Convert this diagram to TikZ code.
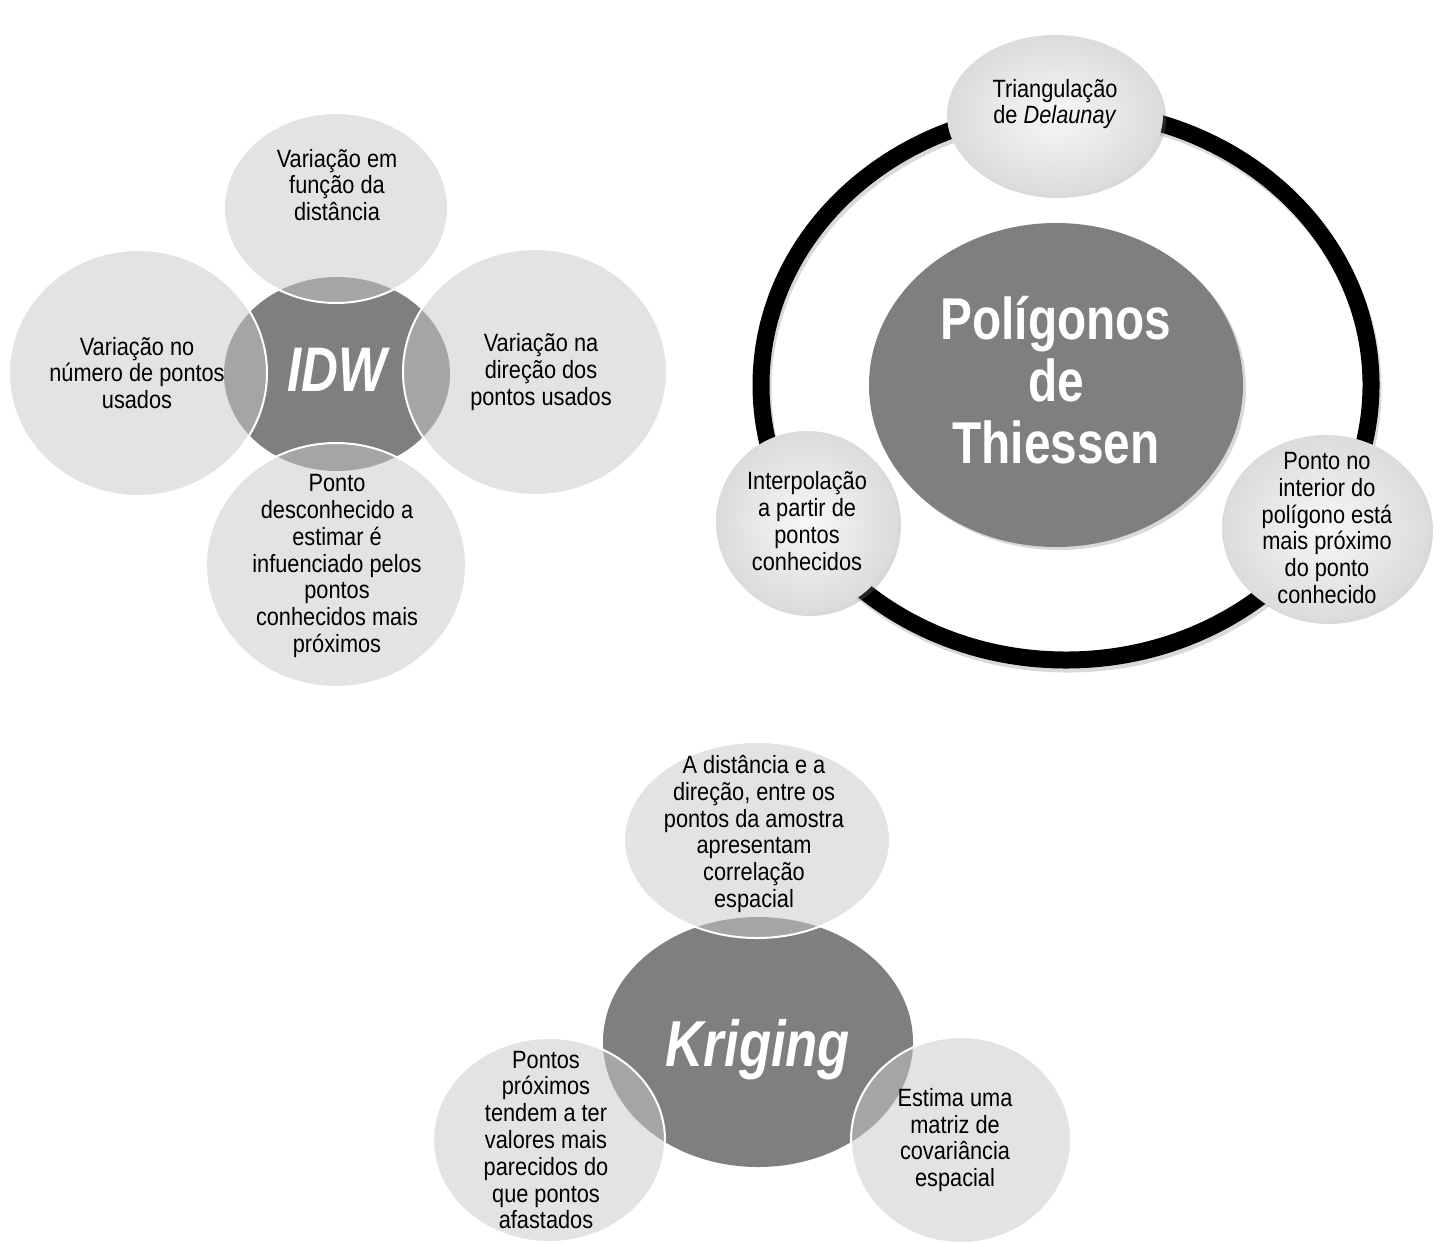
\documentclass[tikz,border=0pt]{standalone}
\usepackage{fontspec}
\setmainfont{Liberation Sans}[FakeStretch=0.87]
\newfontfamily\bigfont{Liberation Sans}[FakeStretch=0.81]
\usetikzlibrary{shapes.geometric,shadows}
\definecolor{hubgray}{HTML}{7F7F7F}
\definecolor{satgray}{HTML}{C9C9C9}

\begin{document}
\begin{tikzpicture}[x=0.5pt,y=-0.5pt]
\tikzstyle{hub}=[ellipse,fill=hubgray,inner sep=0pt]
\tikzstyle{sat}=[ellipse,fill=satgray,fill opacity=0.52,draw=white,line width=1pt,inner sep=0pt]
\tikzstyle{ball}=[ellipse,inner sep=0pt,shading=radial,inner color=gray!6,outer color=gray!28,
  drop shadow={opacity=0.3,shadow xshift=1.5pt,shadow yshift=-1.5pt}]
\tikzstyle{txt}=[align=center,inner sep=0pt,font=\fontsize{12.5}{13.4}\selectfont]
\tikzstyle{bigtxt}=[align=center,inner sep=0pt,text=white]
\useasboundingbox (0,0) rectangle (1443,1243);

% IDW
\node[hub,minimum width=113pt,minimum height=97pt] (idw) at (337,374) {};
\node[sat,minimum width=112pt,minimum height=95pt] (idwtop) at (336,208) {};
\node[sat,minimum width=129pt,minimum height=123pt] (idwleft) at (138,373) {};
\node[sat,minimum width=132pt,minimum height=123pt] (idwright) at (535,372) {};
\node[sat,minimum width=130pt,minimum height=122pt] (idwbottom) at (336,565) {};
\node[bigtxt,font=\bigfont\bfseries\itshape\fontsize{31.5}{32}\selectfont] (idwtxt) at (337,370) {IDW};
\node[txt] (idwtoptxt) at (337,185) {Variação em\\função da\\distância};
\node[txt] (idwlefttxt) at (137,373) {Variação no\\número de pontos\\usados};
\node[txt] (idwrighttxt) at (541,372) {Variação na\\direção dos\\pontos usados};
\node[txt] (idwbottomtxt) at (337,566) {Ponto\\desconhecido a\\estimar é\\infuenciado pelos\\pontos\\conhecidos mais\\próximos};

% Thiessen
\coordinate (ringc) at (1066,385);
\draw[black!60,opacity=0.25,line width=8.5pt] ([shift={(2,4)}]ringc) ellipse [x radius=305,y radius=275];
\draw[black,line width=8.5pt] (ringc) ellipse [x radius=305,y radius=275];
\node[hub,minimum width=187pt,minimum height=162pt,
  drop shadow={opacity=0.3,shadow xshift=1.5pt,shadow yshift=-1.5pt}] (thiessen) at (1056,385) {};
\node[ball,minimum width=108pt,minimum height=80pt] (delaunay) at (1055,115) {};
\node[ball,minimum width=91pt,minimum height=91pt] (interp) at (807,522) {};
\node[ball,minimum width=104pt,minimum height=93pt] (ponto) at (1326,528) {};
\node[bigtxt,font=\bigfont\bfseries\fontsize{29.5}{31}\selectfont] (thiessentxt) at (1056,380) {Polígonos\\de\\Thiessen};
\node[txt] (delaunaytxt) at (1055,104) {Triangulação\\de \textit{Delaunay}};
\node[txt] (interptxt) at (807,521) {Interpolação\\a partir de\\pontos\\conhecidos};
\node[txt] (pontotxt) at (1327,528) {Ponto no\\interior do\\polígono está\\mais próximo\\do ponto\\conhecido};

% Kriging
\node[hub,minimum width=155pt,minimum height=125pt] (krig) at (758,1042) {};
\node[sat,minimum width=133pt,minimum height=98pt] (krigtop) at (757,840) {};
\node[sat,minimum width=116pt,minimum height=102pt] (krigleft) at (549,1140) {};
\node[sat,minimum width=110pt,minimum height=103pt] (krigright) at (961,1140) {};
\node[bigtxt,font=\bigfont\bfseries\itshape\fontsize{32.5}{33}\selectfont] (krigtxt) at (758,1050) {Kriging};
\node[txt] (krigtoptxt) at (754,834) {A distância e a\\direção, entre os\\pontos da amostra\\apresentam\\correlação\\espacial};
\node[txt] (kriglefttxt) at (546,1140) {Pontos\\próximos\\tendem a ter\\valores mais\\parecidos do\\que pontos\\afastados};
\node[txt] (krigrighttxt) at (955,1140) {Estima uma\\matriz de\\covariância\\espacial};
\end{tikzpicture}
\end{document}
